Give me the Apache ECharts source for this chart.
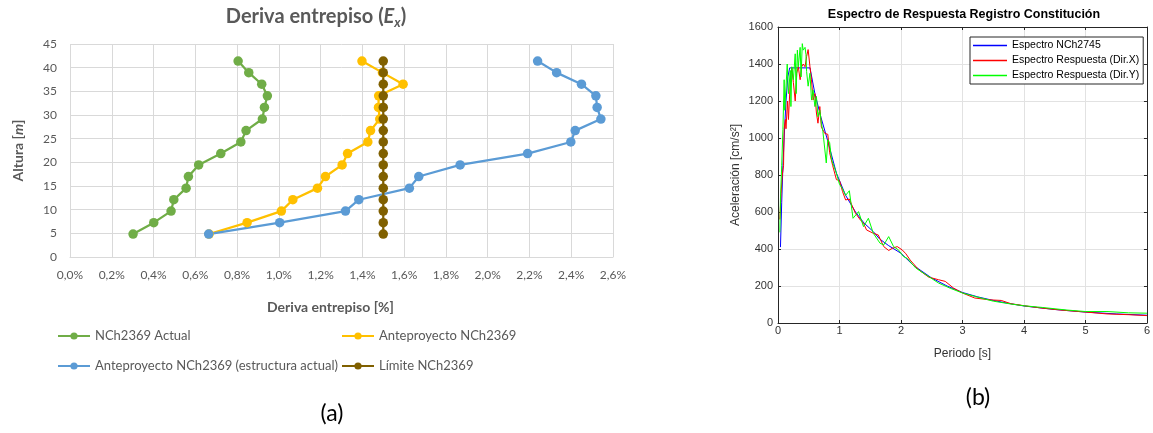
<!DOCTYPE html>
<html><head><meta charset="utf-8">
<script src="https://cdn.jsdelivr.net/npm/echarts@6/dist/echarts.min.js"></script>
<style>html,body{margin:0;padding:0;background:#fff}#c{width:1153px;height:433px}</style>
</head><body><div id="c"></div>
<script>
// ---------- (a) Deriva entrepiso ----------
const alturas = [4.85, 7.25, 9.7, 12.1, 14.55, 17.0, 19.45, 21.85, 24.3, 26.7, 29.15, 31.6, 34.05, 36.5, 38.95, 41.4];
const derivaActual = [0.302, 0.401, 0.484, 0.497, 0.556, 0.567, 0.616, 0.722, 0.818, 0.843, 0.921, 0.931, 0.945, 0.918, 0.856, 0.805];
const derivaAnte = [0.666, 0.848, 1.012, 1.067, 1.185, 1.223, 1.303, 1.329, 1.426, 1.439, 1.483, 1.477, 1.478, 1.595, 1.496, 1.398];
const derivaAnteEstr = [0.664, 1.004, 1.319, 1.383, 1.625, 1.670, 1.868, 2.191, 2.398, 2.419, 2.542, 2.524, 2.518, 2.449, 2.330, 2.239];
const derivaLimite = [1.5, 1.5, 1.5, 1.5, 1.5, 1.5, 1.5, 1.5, 1.5, 1.5, 1.5, 1.5, 1.5, 1.5, 1.5, 1.5];
const nombresA = ['NCh2369 Actual', 'Anteproyecto NCh2369', 'Anteproyecto NCh2369 (estructura actual)', 'Límite NCh2369'];

// ---------- (b) Espectro de respuesta ----------
const tNCh = [0.04, 0.06, 0.08, 0.10, 0.13, 0.16, 0.19, 0.52, 0.60, 0.70, 0.80, 0.95, 1.10, 1.26, 1.40, 1.55, 1.65, 1.80, 2.00, 2.20, 2.50, 2.75, 3.00, 3.25, 3.50, 3.75, 4.00, 4.50, 5.00, 5.50, 6.00];
const saNCh = [410, 650, 850, 1000, 1200, 1330, 1379, 1379, 1240, 1110, 995, 810, 690, 600, 540, 494, 455, 418, 377, 312, 243, 200, 165, 141, 122, 106, 92, 73, 59, 49, 42];
const tX = [0.03, 0.05, 0.07, 0.09, 0.10, 0.12, 0.13, 0.155, 0.17, 0.20, 0.225, 0.25, 0.28, 0.305, 0.33, 0.36, 0.385, 0.41, 0.44, 0.465, 0.49, 0.52, 0.545, 0.57, 0.60, 0.625, 0.65, 0.68, 0.705, 0.76, 0.81, 0.84, 0.89, 0.95, 1.0, 1.05, 1.1, 1.16, 1.2, 1.26, 1.34, 1.39, 1.44, 1.55, 1.63, 1.72, 1.8, 1.86, 1.94, 2.02, 2.08, 2.15, 2.29, 2.45, 2.61, 2.72, 2.85, 3.0, 3.2, 3.45, 3.63, 3.79, 4.01, 4.28, 4.6, 5.01, 5.35, 5.7, 6.0];
const saX = [560, 700, 800, 850, 1050, 1100, 1050, 1200, 1100, 1310, 1380, 1300, 1200, 1350, 1385, 1315, 1385, 1400, 1385, 1440, 1478, 1385, 1315, 1205, 1240, 1135, 1080, 1170, 1060, 1025, 1020, 920, 850, 775, 770, 710, 665, 670, 638, 593, 557, 539, 503, 485, 476, 413, 392, 404, 413, 395, 374, 340, 287, 248, 234, 225, 190, 162, 135, 125, 122, 104, 93, 81, 70, 59, 49, 45, 40];
const tY = [0.03, 0.04, 0.06, 0.08, 0.10, 0.11, 0.15, 0.17, 0.20, 0.21, 0.225, 0.25, 0.28, 0.295, 0.315, 0.33, 0.36, 0.375, 0.395, 0.41, 0.44, 0.455, 0.465, 0.49, 0.52, 0.545, 0.57, 0.60, 0.625, 0.65, 0.68, 0.705, 0.73, 0.76, 0.785, 0.81, 0.84, 0.87, 0.89, 0.95, 1.0, 1.05, 1.1, 1.16, 1.22, 1.31, 1.39, 1.47, 1.55, 1.66, 1.72, 1.8, 1.88, 1.96, 2.04, 2.1, 2.24, 2.4, 2.61, 2.8, 3.0, 3.2, 3.5, 3.8, 4.0, 4.3, 4.7, 5.0, 5.35, 5.7, 6.0];
const saY = [490, 670, 850, 1045, 1315, 1150, 1400, 1240, 1365, 1170, 1385, 1315, 1455, 1240, 1475, 1385, 1490, 1330, 1510, 1475, 1490, 1450, 1360, 1280, 1350, 1205, 1260, 1170, 1225, 1115, 1150, 1080, 1035, 1025, 865, 990, 975, 885, 865, 810, 750, 725, 690, 715, 566, 602, 521, 566, 485, 431, 422, 467, 413, 395, 359, 350, 297, 262, 216, 188, 162, 144, 118, 102, 93, 84, 70, 62, 62, 55, 53];
const nombresB = ['Espectro NCh2745', 'Espectro Respuesta (Dir.X)', 'Espectro Respuesta (Dir.Y)'];

const fL = 'Lato, "Open Sans", sans-serif';
const fR = '"Liberation Sans", Arial, sans-serif';
const gA = '#595959';
const gridA = '#d9d9d9';
const axB = '#262626';

const pairs = (xs, ys) => xs.map((x, i) => [x, ys[i]]);
const pairsA = (xs) => alturas.map((h, i) => [xs[i], h]);

function serieA(name, vals, color) {
  return {
    name, type: 'line', xAxisIndex: 0, yAxisIndex: 0, data: pairsA(vals),
    symbol: 'circle', symbolSize: 9.5, showSymbol: true,
    lineStyle: { width: 2.25, color }, itemStyle: { color }
  };
}
function serieB(name, ts, vals, color) {
  return {
    name, type: 'line', xAxisIndex: 1, yAxisIndex: 1, data: pairs(ts, vals),
    symbol: 'none', lineStyle: { width: 1, color }, itemStyle: { color }
  };
}

const chart = echarts.init(document.getElementById('c'), null, { renderer: 'canvas' });
chart.setOption({
  animation: false,
  backgroundColor: '#fff',
  title: [
    {
      text: '{n|Deriva entrepiso (}{i|E}{s|x}{n|)}', left: 316, top: 5, textAlign: 'center', padding: 0,
      textStyle: {
        rich: {
          n: { fontSize: 20, fontWeight: 'bold', color: gA, fontFamily: fL, lineHeight: 24 },
          i: { fontSize: 20, fontWeight: 'bold', fontStyle: 'italic', color: gA, fontFamily: fL, lineHeight: 24 },
          s: { fontSize: 13, fontWeight: 'bold', fontStyle: 'italic', color: gA, fontFamily: fL, lineHeight: 14, verticalAlign: 'bottom' }
        }
      }
    },
    {
      text: 'Espectro de Respuesta Registro Constitución', left: 964, top: 8, textAlign: 'center', padding: 0,
      textStyle: { fontSize: 12.5, fontWeight: 'bold', color: '#000', fontFamily: fR }
    }
  ],
  legend: [
    {
      data: [nombresA[0], nombresA[2]], orient: 'vertical', left: 57, top: 328, padding: 0,
      itemWidth: 32, itemHeight: 9, itemGap: 14, itemTextGap: 2,
      textStyle: { fontSize: 13, color: gA, fontFamily: fL, lineHeight: 16 }
    },
    {
      data: [nombresA[1], nombresA[3]], orient: 'vertical', left: 341, top: 328, padding: 0,
      itemWidth: 32, itemHeight: 9, itemGap: 14, itemTextGap: 2,
      textStyle: { fontSize: 13, color: gA, fontFamily: fL, lineHeight: 16 }
    },
    {
      data: nombresB, orient: 'vertical', left: 970, top: 37, padding: [2, 4, 2, 3],
      icon: 'rect', itemWidth: 34, itemHeight: 1.4, itemGap: 2, itemTextGap: 3,
      backgroundColor: '#fff', borderColor: axB, borderWidth: 1, borderRadius: 0,
      textStyle: { fontSize: 10.5, color: '#000', fontFamily: fR, lineHeight: 13 }
    }
  ],
  grid: [
    { left: 70, top: 44, width: 543, height: 213 },
    { left: 778, top: 27, width: 372, height: 296 }
  ],
  xAxis: [
    {
      gridIndex: 0, type: 'value', min: 0, max: 2.6, interval: 0.2,
      axisLine: { show: true, lineStyle: { color: gridA } }, axisTick: { show: false },
      axisLabel: { formatter: v => v.toFixed(1).replace('.', ',') + '%', color: gA, fontSize: 12, fontFamily: fL, margin: 12 },
      splitLine: { show: true, lineStyle: { color: gridA } },
      name: 'Deriva entrepiso [%]', nameLocation: 'middle', nameGap: 43,
      nameTextStyle: { fontWeight: 'bold', fontSize: 14, color: gA, fontFamily: fL, padding: [0, 22, 0, 0] }
    },
    {
      gridIndex: 1, type: 'value', min: 0, max: 6, interval: 1,
      axisLine: { show: true, onZero: false, lineStyle: { color: axB } },
      axisTick: { show: true, inside: true, length: 3, lineStyle: { color: axB } },
      axisLabel: { color: '#333', fontSize: 11, fontFamily: fR, margin: 2 },
      splitLine: { show: true, lineStyle: { color: '#e2e2e2' } },
      name: 'Periodo [s]', nameLocation: 'middle', nameGap: 25,
      nameTextStyle: { fontSize: 12, color: '#333', fontFamily: fR }
    },
    {
      gridIndex: 1, type: 'value', position: 'top', min: 0, max: 6, interval: 1,
      axisLine: { show: true, onZero: false, lineStyle: { color: axB } },
      axisTick: { show: true, inside: true, length: 3, lineStyle: { color: axB } },
      axisLabel: { show: false }, splitLine: { show: false }
    }
  ],
  yAxis: [
    {
      gridIndex: 0, type: 'value', min: 0, max: 45, interval: 5,
      axisLine: { show: false }, axisTick: { show: false },
      axisLabel: { color: gA, fontSize: 12, fontFamily: fL, margin: 13 },
      splitLine: { show: true, lineStyle: { color: gridA } },
      name: '{b|Altura [}{i|m}{b|]}', nameLocation: 'middle', nameGap: 45, nameRotate: 90,
      nameTextStyle: {
        rich: {
          b: { fontWeight: 'bold', fontSize: 14, color: gA, fontFamily: fL },
          i: { fontWeight: 'bold', fontStyle: 'italic', fontSize: 14, color: gA, fontFamily: fL }
        }
      }
    },
    {
      gridIndex: 1, type: 'value', min: 0, max: 1600, interval: 200,
      axisLine: { show: true, onZero: false, lineStyle: { color: axB } },
      axisTick: { show: true, inside: true, length: 3, lineStyle: { color: axB } },
      axisLabel: { formatter: v => String(v), color: '#333', fontSize: 11, fontFamily: fR, margin: 5 },
      splitLine: { show: true, lineStyle: { color: '#e2e2e2' } },
      name: 'Aceleración [cm/s²]', nameLocation: 'middle', nameGap: 36, nameRotate: 90,
      nameTextStyle: { fontSize: 12, color: '#333', fontFamily: fR }
    },
    {
      gridIndex: 1, type: 'value', position: 'right', min: 0, max: 1600, interval: 200,
      axisLine: { show: true, onZero: false, lineStyle: { color: axB } },
      axisTick: { show: true, inside: true, length: 3, lineStyle: { color: axB } },
      axisLabel: { show: false }, splitLine: { show: false }
    }
  ],
  series: [
    serieA(nombresA[0], derivaActual, '#70AD47'),
    serieA(nombresA[1], derivaAnte, '#FFC000'),
    serieA(nombresA[2], derivaAnteEstr, '#5B9BD5'),
    serieA(nombresA[3], derivaLimite, '#806000'),
    serieB(nombresB[0], tNCh, saNCh, '#0000ff'),
    serieB(nombresB[1], tX, saX, '#ff0000'),
    serieB(nombresB[2], tY, saY, '#00ff00')
  ],
  graphic: [
    { type: 'text', style: { text: '(a)', x: 332, y: 414, align: 'center', verticalAlign: 'middle', fontSize: 23, fontFamily: fL, fill: '#000' } },
    { type: 'text', style: { text: '(b)', x: 978, y: 398, align: 'center', verticalAlign: 'middle', fontSize: 23, fontFamily: fL, fill: '#000' } }
  ]
});
</script>
</body></html>
